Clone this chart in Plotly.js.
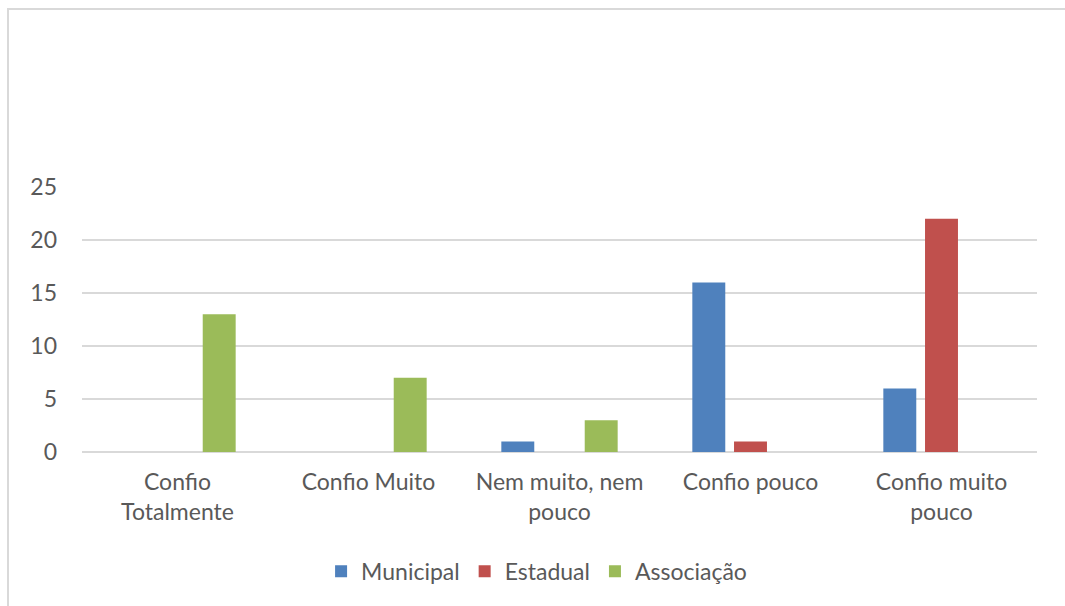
<!DOCTYPE html>
<html>
<head>
<meta charset="utf-8">
<script src="https://cdn.plot.ly/plotly-3.0.1.min.js"></script>
<style>html,body{margin:0;padding:0;background:#fff;}#chart{width:1065px;height:606px;}</style>
</head>
<body>
<div id="chart"></div>
<script>
const categories = ["Confio<br>Totalmente", "Confio Muito", "Nem muito, nem<br>pouco", "Confio pouco", "Confio muito<br>pouco"];
const municipal = [0, 0, 1, 16, 6];
const estadual = [0, 0, 0, 1, 22];
const associacao = [13, 7, 3, 0, 0];
const yTicks = [0, 5, 10, 15, 20, 25];

const font = "Lato, 'Liberation Sans', sans-serif";
const mk = (name, y, color) => ({
  type: 'bar', name: name, x: categories, y: y,
  marker: {color: color, line: {width: 0}},
  hoverinfo: 'skip'
});

const data = [
  mk('Municipal', municipal, '#4F81BD'),
  mk('Estadual', estadual, '#C0504D'),
  mk('Associação', associacao, '#9BBB59')
];

const layout = {
  width: 1065, height: 606,
  margin: {l: 82, r: 28, t: 187, b: 154},
  paper_bgcolor: '#ffffff', plot_bgcolor: '#ffffff',
  barmode: 'group', bargap: 0.345, bargroupgap: 0.21,
  font: {family: font, size: 23, color: '#595959'},
  xaxis: {
    type: 'category', showgrid: false, zeroline: false, showline: false,
    ticks: '', ticklabelstandoff: 14,
    tickfont: {family: font, size: 23, color: '#595959'}
  },
  yaxis: {
    range: [0, 25], tickvals: yTicks, ticktext: yTicks.map(String),
    showgrid: true, gridcolor: '#D9D9D9', gridwidth: 2,
    zeroline: true, zerolinecolor: '#D9D9D9', zerolinewidth: 2,
    showline: false, ticks: '', ticklabelstandoff: 24,
    tickfont: {family: font, size: 23, color: '#595959'}
  },
  showlegend: true,
  legend: {
    orientation: 'h', x: 0.476, xanchor: 'center', y: -0.45, yanchor: 'middle',
    font: {family: font, size: 23, color: '#595959'},
    itemwidth: 30, traceorder: 'normal'
  },
  shapes: [{
    type: 'rect', xref: 'paper', yref: 'paper',
    x0: -74/955, x1: 1026/955, y0: -170/265, y1: 443/265,
    line: {color: '#D9D9D9', width: 2}, fillcolor: 'rgba(0,0,0,0)', layer: 'below'
  }]
};

Plotly.newPlot('chart', data, layout, {displayModeBar: false, staticPlot: true});
</script>
</body>
</html>
